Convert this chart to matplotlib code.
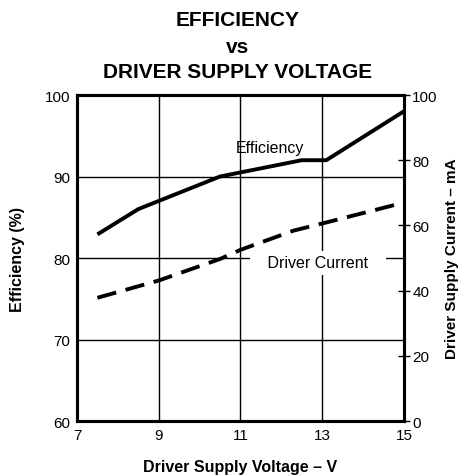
import matplotlib
matplotlib.use("Agg")
import matplotlib.pyplot as plt

plt.rcParams['font.family'] = ['Liberation Sans', 'DejaVu Sans']

# efficiency (%) vs driver supply voltage
eff_v = [7.5, 8.5, 10.5, 11.0, 12.5, 13.1, 15.0]
eff_pct = [82.9, 86.0, 90.0, 90.5, 92.0, 92.0, 98.0]

# driver supply current (mA)
cur_v = [7.5, 9.0, 10.5, 11.0, 12.3, 13.1, 15.0]
cur_ma = [37.8, 43.1, 49.7, 52.5, 58.4, 60.9, 67.0]

x_ticks = [7, 9, 11, 13, 15]
left_ticks = [60, 70, 80, 90, 100]
right_ticks = [0, 20, 40, 60, 80, 100]

fig = plt.figure(figsize=(4.6, 4.77), dpi=100)
ax = fig.add_axes([0.1674, 0.1153, 0.7106, 0.6834])

ax.plot(eff_v, eff_pct, color='black', lw=2.8, solid_capstyle='butt')
ax.set_xlim(7, 15)
ax.set_ylim(60, 100)
ax.set_xticks(x_ticks)
ax.set_yticks(left_ticks)
ax.tick_params(length=0, labelsize=11, pad=5)
ax.grid(True, color='black', lw=1.0)
for s in ax.spines.values():
    s.set_linewidth(2.2)

ax.set_xlabel('Driver Supply Voltage – V', fontsize=11.5, fontweight='bold', labelpad=12)
ax.set_ylabel('Efficiency (%)', fontsize=11.5, fontweight='bold', labelpad=14)

ax.text(11.72, 93.5, 'Efficiency', ha='center', va='center', fontsize=11.5)
ax.text(12.9, 79.4, '   Driver Current   ', ha='center', va='center', fontsize=11.5,
        bbox=dict(facecolor='white', edgecolor='none', pad=3))

ax2 = ax.twinx()
ax2.plot(cur_v, cur_ma, color='black', lw=2.8, dashes=(5, 2.5))
ax2.set_ylim(0, 100)
ax2.set_yticks(right_ticks)
ax2.tick_params(axis='y', direction='inout', length=8, width=1, labelsize=11, pad=2)
ax2.set_ylabel('Driver Supply Current – mA', fontsize=11, fontweight='bold', labelpad=5)
for s in ax2.spines.values():
    s.set_linewidth(2.2)

fig.text(0.516, 0.958, 'EFFICIENCY', ha='center', va='center', fontsize=15, fontweight='bold')
fig.text(0.516, 0.9, 'vs', ha='center', va='center', fontsize=15, fontweight='bold')
fig.text(0.516, 0.847, 'DRIVER SUPPLY VOLTAGE', ha='center', va='center', fontsize=15, fontweight='bold')

fig.savefig('out.png', dpi=100)
